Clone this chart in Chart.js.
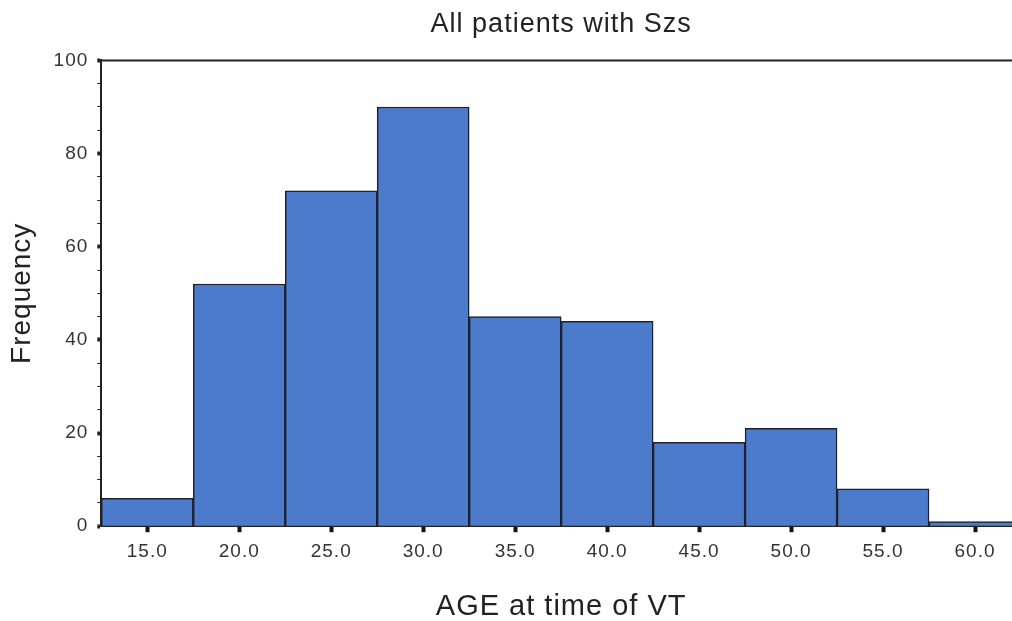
<!DOCTYPE html>
<html>
<head>
<meta charset="utf-8">
<script src="https://cdn.jsdelivr.net/npm/chart.js@4.4.1/dist/chart.umd.min.js"></script>
<style>
  html, body { margin: 0; padding: 0; background: #fff; overflow: hidden; }
  .histWrap { width: 1021px; height: 621px; position: relative; }
</style>
</head>
<body>
<div class="histWrap">
  <canvas id="histChart"></canvas>
</div>
<script>
// histogram of age at time of VT
const ageBins = ['15.0', '20.0', '25.0', '30.0', '35.0', '40.0', '45.0', '50.0', '55.0', '60.0'];
const frequency = [6, 52, 72, 90, 45, 44, 18, 21, 8, 1];
const yTicks = [0, 20, 40, 60, 80, 100];

const fontFam = '"Liberation Sans", Arial, sans-serif';

// the original text is a bit spread out
const spacing = {
  id: 'spacing',
  beforeUpdate(chart) { chart.ctx.letterSpacing = '1px'; },
  beforeLayout(chart) { chart.ctx.letterSpacing = '1px'; },
  beforeDraw(chart) { chart.ctx.letterSpacing = '1px'; }
};

// top frame line of the plot
const topLine = {
  id: 'topLine',
  afterDraw(chart) {
    const { ctx, chartArea } = chart;
    ctx.save();
    ctx.strokeStyle = '#222';
    ctx.lineWidth = 2;
    ctx.beginPath();
    ctx.moveTo(chartArea.left, chartArea.top);
    ctx.lineTo(chartArea.right, chartArea.top);
    ctx.stroke();
    ctx.restore();
  }
};

const ctx = document.getElementById('histChart').getContext('2d');
new Chart(ctx, {
  type: 'bar',
  data: {
    labels: ageBins,
    datasets: [{
      data: frequency,
      backgroundColor: '#4d7bcc',
      borderColor: '#1c2030',
      borderWidth: 1.5,
      barPercentage: 1,
      categoryPercentage: 1
    }]
  },
  options: {
    responsive: true,
    maintainAspectRatio: false,
    animation: false,
    layout: { padding: { top: 4, left: 5, right: 0, bottom: 0 } },
    plugins: {
      legend: { display: false },
      tooltip: { enabled: false },
      title: {
        display: true,
        fullSize: false,
        text: 'All patients with Szs',
        color: '#222',
        font: { family: fontFam, size: 27, weight: 'normal' },
        padding: { top: 4, bottom: 20 }
      }
    },
    scales: {
      x: {
        offset: true,
        grid: {
          drawOnChartArea: false,
          offset: false,
          tickLength: 6,
          tickWidth: 4,
          tickColor: '#111'
        },
        border: { display: true, color: '#222', width: 2 },
        ticks: {
          color: '#333',
          padding: 8,
          font: { family: fontFam, size: 19 }
        },
        title: {
          display: true,
          text: 'AGE at time of VT',
          color: '#222',
          font: { family: fontFam, size: 29, lineHeight: 1 },
          padding: { top: 21, bottom: 0 }
        }
      },
      y: {
        min: 0,
        max: 100,
        ticks: {
          stepSize: 5,
          autoSkip: false,
          color: '#333',
          padding: 9,
          font: { family: fontFam, size: 19 },
          callback: (v) => yTicks.includes(v) ? v : ''
        },
        grid: {
          drawOnChartArea: false,
          tickLength: 4,
          tickWidth: (c) => yTicks.includes(c.tick && c.tick.value) ? 4 : 1,
          tickColor: '#222'
        },
        border: { display: true, color: '#222', width: 2 },
        title: {
          display: true,
          text: 'Frequency',
          color: '#222',
          font: { family: fontFam, size: 28 },
          padding: { top: 0, bottom: 6 }
        }
      }
    }
  },
  plugins: [spacing, topLine]
});
</script>
</body>
</html>
